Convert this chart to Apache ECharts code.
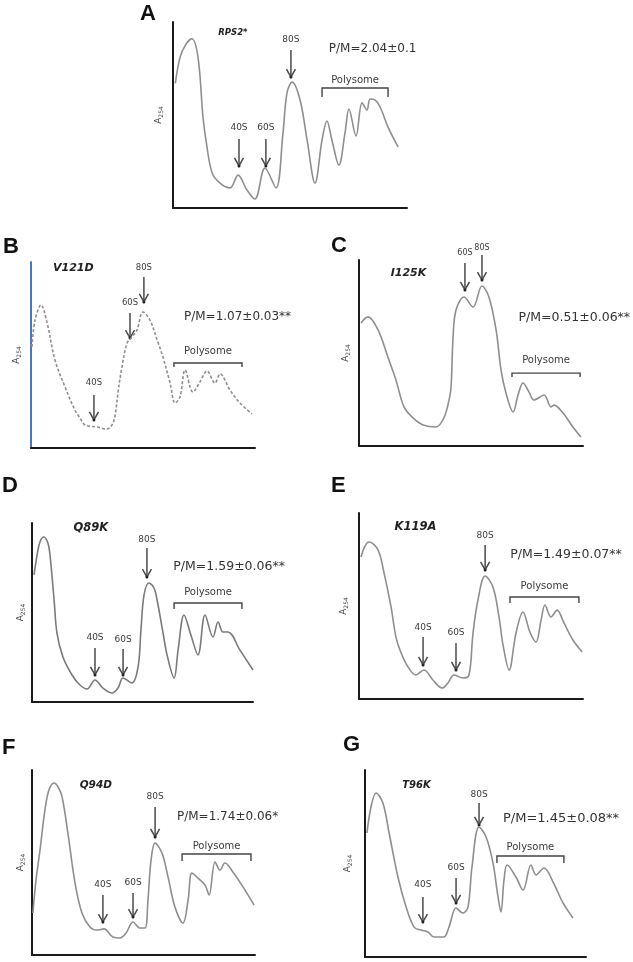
<!DOCTYPE html>
<html><head><meta charset="utf-8">
<script src="https://cdn.jsdelivr.net/npm/echarts/dist/echarts.min.js"></script>
<style>html,body{margin:0;padding:0;background:#fff}#c{width:633px;height:962px}</style>
</head><body><div id="c"></div>
<script>
// ---------- DATA (x: gradient position 0-100, y: relative A254 0-100) ----------
const profileA = [[1,67],[3,81],[5.5,88],[8,91],[10.7,81],[12.8,49],[14.5,33],[16.7,19],[20.1,13.4],[24.4,10.8],[27.8,17.7],[31.6,9.7],[35,4.8],[39.3,21.5],[44,10.8],[47,40.3],[48.7,61.8],[50.9,67.7],[54.3,58.1],[57.3,36.6],[60.7,13.4],[63.7,36.6],[65.8,46.8],[67.9,36.6],[70.9,23.1],[73.5,40.3],[75.2,53.2],[78.2,38.7],[80.8,56.5],[82.9,52.7],[84.2,58.6],[86.3,58.1],[88.5,54.3],[91.9,43.5],[96.2,32.8]];
const profileB = [[0.4,54.3],[1.8,68.8],[4.5,76.9],[7.1,67.7],[10.7,47.3],[15.2,32.8],[19.6,20.4],[21.9,16.1],[24.1,12.4],[29.5,11.3],[33.9,10.2],[36.6,13.4],[37.9,20.4],[38.8,29.6],[40.6,43.5],[42.9,56.5],[45.1,59.7],[47.3,63.4],[50,73.1],[53.1,68.8],[56.3,58.1],[58.9,48.9],[62.1,34.9],[64.3,24.2],[66.5,27.4],[68.8,41.9],[72.3,30.1],[75.4,35.5],[78.6,41.4],[82.1,34.9],[84.4,39.8],[88.8,31.2],[93.3,24.2],[98.7,18.3]];
const profileC = [[0.9,66.1],[4,69.4],[8.5,62.4],[12.9,47.8],[16.5,35.5],[20.1,21],[24.1,15.1],[28.6,11.3],[34.4,10.2],[37.9,15.1],[40.2,24.7],[41.1,31.7],[42,58.6],[43.3,73.1],[46.9,80.1],[50.9,74.7],[54.9,86],[58,80.1],[61.2,62.4],[63.4,40.9],[65.6,28.5],[68.8,18.3],[71,27.4],[73.2,33.9],[75.9,29],[78.1,24.7],[82.6,27.4],[85.7,21],[87.1,22],[91.1,17.7],[95.5,10.2],[99.1,4.8]];
const profileD = [[0.9,71],[2.3,82.1],[3.6,89.4],[5.4,92.2],[7.2,88.8],[8.1,82.7],[10,57],[11.3,38.5],[14,25.1],[18.1,15.1],[21.7,9.5],[24.9,7.3],[28.5,12.3],[32.1,7.8],[36.2,5],[38.9,7.8],[41.2,13.4],[45.2,10.6],[48,19.6],[49.3,40.2],[50.7,59.8],[52.9,66.5],[55.2,63.7],[56.6,57],[59.3,38.5],[61.1,26.3],[64.3,13.4],[66.1,29],[68.8,48.6],[71.9,37.4],[75.1,26.3],[78.3,48.6],[81.9,36.3],[84.2,44.7],[86.4,39.1],[88.7,39.1],[94.1,29],[100,17.9]];
const profileE = [[0.9,76.3],[2.7,82.3],[4.5,84.4],[8.5,80.1],[11.2,67.7],[14.3,49.5],[16.5,33.3],[18.8,24.7],[21.9,17.2],[25.4,12.9],[29,15.6],[33,10.2],[37.1,5.9],[39.7,8.6],[42.4,12.9],[46.4,11.3],[49.1,12.9],[50.9,35.5],[53.1,53.2],[56.3,66.1],[59.8,60.2],[62.5,44.1],[64.3,29],[67,15.6],[70.1,35.5],[73.2,46.8],[76.3,36],[79,30.6],[81.3,42.5],[83,50.5],[85.7,44.1],[88.4,47.8],[91.5,40.9],[95.5,31.7],[99.6,25.3]];
const profileF = [[0.4,22.7],[1.8,40.5],[3.6,56.8],[5.8,78.4],[7.6,89.2],[9.9,93],[11.7,90.8],[13.5,85.4],[16.1,65.9],[19.3,38.9],[22.4,22.7],[26,15.1],[29.1,13.5],[32.3,14.1],[36.3,9.7],[39.5,9.2],[42.2,11.9],[45.3,17.8],[48.4,14.6],[50.7,14.6],[52,29.7],[53.4,51.4],[55.2,60.5],[58.3,55.1],[61,42.2],[64.1,25.9],[67.7,17.3],[70,29.7],[71.7,44.3],[74.4,41.6],[77.6,37.8],[79.4,32.4],[82.1,50.3],[84.3,45.9],[86.5,49.7],[90.1,44.9],[94.6,36.8],[99.6,27]];
const profileG = [[0.9,66.3],[2.7,80.2],[5,87.7],[8.1,82.4],[10.9,66.3],[14.9,42.8],[18.6,26.7],[22.2,16],[25.3,14.4],[28.5,13.4],[31.2,10.7],[35.7,10.7],[38,16],[41.2,26.2],[44.3,23.5],[46.6,26.7],[48.4,48.1],[51.6,69.5],[54.8,64.2],[57.9,50.3],[60.2,32.1],[61.5,24.1],[62.9,41.2],[64.3,49.2],[68.3,42.8],[71.5,35.8],[75.1,49.2],[77.4,43.9],[81,47.6],[85.1,40.1],[89.6,28.9],[94.1,20.9]];

// peak annotations: [label, x, labelY, arrowStartY, arrowTipY]
const peaksA = [['40S',28.2,43,37.1,22.6],['60S',39.7,43,37.1,22.6],['80S',50.4,90.3,84.9,70.4]];
const peaksB = [['40S',28.1,34.9,28.5,15.1],['60S',44.2,77.9,72.6,59.1],['80S',50.4,96.8,91.9,78.5]];
const peaksC = [['60S',47.3,103.8,98.4,83.9],['80S',54.9,106.5,102.7,89.2]];
const peaksD = [['40S',28.5,35.8,30.2,15.1],['60S',41.2,34.6,29.6,15.1],['80S',52,90.5,86,69.8]];
const peaksE = [['40S',28.6,38.2,33.3,18.3],['60S',43.3,35.5,30.1,15.6],['80S',56.3,87.6,82.8,69.4]];
const peaksF = [['40S',31.8,37.8,32.4,17.8],['60S',45.3,38.9,33.5,20.5],['80S',55.2,85.4,80,63.8]];
const peaksG = [['40S',26.2,38.5,32.1,18.7],['60S',41.2,47.6,42.2,28.9],['80S',51.6,86.6,82.4,70.6]];

// polysome bracket: [x1, x2, topY, endY, labelY]
const bracketA = [63.7,91.9,64.5,59.7,68.8];
const bracketB = [63.8,94.2,45.7,43.5,52.2];
const bracketC = [68.3,98.7,39.2,37.1,46.2];
const bracketD = [64.3,95,55.3,52,61.5];
const bracketE = [67.4,98.2,54.8,51.6,60.8];
const bracketF = [67.3,98.2,54.6,50.8,58.9];
const bracketG = [59.7,90,54,50.3,58.8];

const panelLetters = ['A','B','C','D','E','F','G'];
const sampleNames = ['RPS2*','V121D','I125K','Q89K','K119A','Q94D','T96K'];
const sampleAt = [[25.6,94],[18.9,96.6],[22.1,92.8],[26.6,97],[25.2,92.6],[28.6,91.9],[23.3,92]];
const pmRatios = ['P/M=2.04±0.1','P/M=1.07±0.03**','P/M=0.51±0.06**','P/M=1.59±0.06**','P/M=1.49±0.07**','P/M=1.74±0.06*','P/M=1.45±0.08**'];
const pmAt = [[85.3,85.3],[92.2,70.6],[96.1,68.7],[89.2,75.6],[92.4,77.4],[87.7,74.7],[88.7,74.2]];
const polysomeLabel = 'Polysome';

// ---------- LAYOUT ----------
const profiles = [profileA,profileB,profileC,profileD,profileE,profileF,profileG];
const peaks = [peaksA,peaksB,peaksC,peaksD,peaksE,peaksF,peaksG];
const brackets = [bracketA,bracketB,bracketC,bracketD,bracketE,bracketF,bracketG];
const layout = [
  {grid:{left:173,top:22,width:234,height:186}, letter:[140,15], yColor:'#1a1a1a', dashed:false, gap:9, nameFs:8.5, pmFs:12, peakFs:9},
  {grid:{left:31,top:262,width:224,height:186}, letter:[3,248], yColor:'#4a76c6', dashed:true, gap:9, nameFs:11, pmFs:12, peakFs:8.5},
  {grid:{left:359,top:260,width:224,height:186}, letter:[331,247], yColor:'#1a1a1a', dashed:false, gap:8, nameFs:11, pmFs:12.5, peakFs:8},
  {grid:{left:32,top:523,width:221,height:179}, letter:[2,487], yColor:'#1a1a1a', dashed:false, gap:6, nameFs:11.5, pmFs:12.5, peakFs:9},
  {grid:{left:359,top:513,width:224,height:186}, letter:[331,487], yColor:'#1a1a1a', dashed:false, gap:10, nameFs:11.5, pmFs:12.5, peakFs:9},
  {grid:{left:32,top:770,width:223,height:185}, letter:[2,749], yColor:'#1a1a1a', dashed:false, gap:6, nameFs:10.5, pmFs:12, peakFs:9},
  {grid:{left:365,top:770,width:221,height:187}, letter:[343,746], yColor:'#1a1a1a', dashed:false, gap:12, nameFs:10, pmFs:13, peakFs:9}
];
const FONT = 'DejaVu Sans';

const option = {animation:false, backgroundColor:'#fff', grid:[], xAxis:[], yAxis:[], series:[], graphic:[]};

layout.forEach((L,i)=>{
  option.grid.push(Object.assign({containLabel:false}, L.grid));
  option.xAxis.push({type:'value', gridIndex:i, min:0, max:100,
    axisLine:{show:true, onZero:false, lineStyle:{color:'#1a1a1a', width:2}},
    axisTick:{show:false}, axisLabel:{show:false}, splitLine:{show:false}});
  option.yAxis.push({type:'value', gridIndex:i, min:0, max:100,
    axisLine:{show:true, onZero:false, lineStyle:{color:L.yColor, width:2}},
    axisTick:{show:false}, axisLabel:{show:false}, splitLine:{show:false},
    name:'{a|A}{s|254}', nameLocation:'middle', nameGap:L.gap, nameRotate:90,
    nameTextStyle:{rich:{a:{fontSize:9, color:'#444', fontFamily:FONT}, s:{fontSize:6, color:'#444', fontFamily:FONT, verticalAlign:'bottom', padding:[5,0,0,0]}}}});
  // trace
  option.series.push({type:'line', xAxisIndex:i, yAxisIndex:i, data:profiles[i], smooth:0.35,
    showSymbol:false, symbol:'none', silent:true,
    lineStyle:{color: i===3 ? '#7a7a7a' : '#8e8e8e', width:1.6, type: L.dashed ? [3,2] : 'solid'}});
  // peak arrows + labels
  const pk = peaks[i];
  option.series.push({type:'custom', xAxisIndex:i, yAxisIndex:i, silent:true, clip:false,
    data: pk.map(k=>[k[1],k[2],k[3],k[4]]), encode:{x:0, y:[1,2,3]},
    renderItem:(params, api)=>{
      const x = api.value(0);
      const pl = api.coord([x, api.value(1)]);
      const p1 = api.coord([x, api.value(2)]);
      const p2 = api.coord([x, api.value(3)]);
      return {type:'group', children:[
        {type:'text', x:pl[0], y:pl[1], style:{text:pk[params.dataIndex][0], fontSize:L.peakFs, fontFamily:FONT, fill:'#3a3a3a', align:'center', verticalAlign:'middle'}},
        {type:'line', shape:{x1:p1[0], y1:p1[1], x2:p2[0], y2:p2[1]}, style:{stroke:'#4a4a4a', lineWidth:1.5}},
        {type:'polyline', shape:{points:[[p2[0]-4.5,p2[1]-8],[p2[0],p2[1]],[p2[0]+4.5,p2[1]-8]]}, style:{stroke:'#4a4a4a', lineWidth:1.5, fill:null}},
        {type:'circle', shape:{cx:p2[0], cy:p2[1], r:1.5}, style:{fill:'#222'}}
      ]};
    }});
  // polysome bracket
  const br = brackets[i];
  option.series.push({type:'custom', xAxisIndex:i, yAxisIndex:i, silent:true, clip:false,
    data:[br], encode:{x:[0,1], y:[2,3,4]},
    renderItem:(params, api)=>{
      const a = api.coord([api.value(0), api.value(3)]);
      const b = api.coord([api.value(0), api.value(2)]);
      const c = api.coord([api.value(1), api.value(2)]);
      const d = api.coord([api.value(1), api.value(3)]);
      const t = api.coord([(api.value(0)+api.value(1))/2, api.value(4)]);
      return {type:'group', children:[
        {type:'polyline', shape:{points:[a,b,c,d]}, style:{stroke:'#444', lineWidth:1.4, fill:null}},
        {type:'text', x:t[0], y:t[1], style:{text:polysomeLabel, fontSize:10, fontFamily:FONT, fill:'#3a3a3a', align:'center', verticalAlign:'middle'}}
      ]};
    }});
  // sample name & P/M ratio
  option.series.push({type:'custom', xAxisIndex:i, yAxisIndex:i, silent:true, clip:false,
    data:[sampleAt[i], pmAt[i]], encode:{x:0, y:1},
    renderItem:(params, api)=>{
      const p = api.coord([api.value(0), api.value(1)]);
      const isName = params.dataIndex === 0;
      return {type:'text', x:p[0], y:p[1], style:{
        text: isName ? sampleNames[i] : pmRatios[i],
        fontSize: isName ? L.nameFs : L.pmFs, fontFamily:FONT,
        fontWeight: isName ? 'bold' : 'normal', fontStyle: isName ? 'italic' : 'normal',
        fill: isName ? '#222' : '#333', align:'center', verticalAlign:'middle'}};
    }});
  // panel letter
  option.graphic.push({type:'text', left:L.letter[0], top:L.letter[1]-12, silent:true,
    style:{text:panelLetters[i], fontSize:22, fontWeight:'bold', fontFamily:'Liberation Sans', fill:'#111'}});
});

const chart = echarts.init(document.getElementById('c'), null, {width:633, height:962});
chart.setOption(option);
</script></body></html>
